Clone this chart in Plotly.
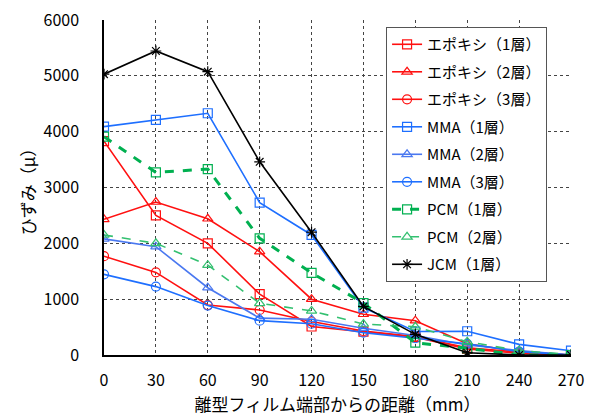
import plotly.graph_objects as go

x = [0, 30, 60, 90, 120, 150, 180, 210, 240, 270]

epoxy1 = [3830, 2500, 2000, 1090, 510, 420, 320, 110, 30, 0]
epoxy2 = [2430, 2740, 2440, 1850, 1000, 730, 615, 200, 60, 0]
epoxy3 = [1770, 1480, 895, 806, 600, 430, 330, 130, 50, 0]
mma1 = [4090, 4210, 4330, 2730, 2150, 850, 420, 425, 190, 77]
mma2 = [2080, 1940, 1205, 660, 640, 480, 350, 180, 80, 0]
mma3 = [1445, 1225, 885, 615, 560, 400, 300, 200, 60, 0]
pcm1 = [3910, 3270, 3330, 2090, 1470, 930, 220, 120, 0, 0]
pcm2 = [2150, 2000, 1610, 926, 790, 555, 505, 239, 77, 12]
jcm1 = [5030, 5445, 5075, 3460, 2200, 870, 370, 40, 0, 0]

names = ["エポキシ（1層）", "エポキシ（2層）", "エポキシ（3層）",
         "MMA（1層）", "MMA（2層）", "MMA（3層）",
         "PCM（1層）", "PCM（2層）", "JCM（1層）"]

series = [epoxy1, epoxy2, epoxy3, mma1, mma2, mma3, pcm1, pcm2, jcm1]
colors = ["#FF1010", "#FF1010", "#FF1010", "#1E6FFF", "#4A78F0", "#1E6FFF",
          "#00B050", "#33C070", "#000000"]
symbols = ["square-open", "triangle-up-open", "circle-open",
           "square-open", "triangle-up-open", "circle-open",
           "square-open", "triangle-up-open", "asterisk-open"]
widths = [1.6, 1.6, 1.6, 1.6, 1.6, 1.6, 3, 1.6, 1.6]
dashes = ["solid"] * 6 + ["dash", "dash", "solid"]

fig = go.Figure()
for i, (name, ys, c, s, w, d) in enumerate(zip(names, series, colors, symbols, widths, dashes)):
    fig.add_trace(go.Scatter(
        x=x, y=ys, name=name, mode="lines+markers", legendgroup=f"g{i}",
        line=dict(color=c, width=w, dash=d),
        marker=dict(symbol=s, size=9, color=c, line=dict(color=c, width=1.2)),
    ))

font = "Noto Sans CJK JP"
fig.update_layout(
    width=595, height=419,
    margin=dict(l=104, r=24, t=20, b=64, autoexpand=False),
    paper_bgcolor="white", plot_bgcolor="white",
    font=dict(family=font, size=16, color="black"),
    showlegend=True,
    legend=dict(
        x=0.604, y=0.979, xanchor="left", yanchor="top",
        bgcolor="white", bordercolor="#555555", borderwidth=1,
        font=dict(family=font, size=15), tracegroupgap=5,
        itemwidth=30,
    ),
    xaxis=dict(
        range=[0, 270], tickmode="array", tickvals=x,
        showgrid=True, gridcolor="#444444", griddash="dot", gridwidth=1,
        showline=True, linecolor="black", linewidth=1.5, mirror=False,
        ticks="", zeroline=False, ticklabelstandoff=10,
        title=dict(text="離型フィルム端部からの距離（mm）", standoff=6,
                   font=dict(family=font, size=17)),
        tickfont=dict(family=font, size=16),
    ),
    yaxis=dict(
        range=[0, 6000], tickvals=[0, 1000, 2000, 3000, 4000, 5000, 6000],
        showgrid=True, gridcolor="#444444", griddash="dot", gridwidth=1,
        showline=True, linecolor="black", linewidth=1.5,
        ticks="", zeroline=False, ticklabelstandoff=20,
        title=dict(text="ひずみ（μ）", standoff=4,
                   font=dict(family=font, size=17)),
        tickfont=dict(family=font, size=16),
    ),
)

fig.write_html("out.html", config={"displayModeBar": False},
               post_script="document.body.style.margin='0';document.body.style.padding='0';")
